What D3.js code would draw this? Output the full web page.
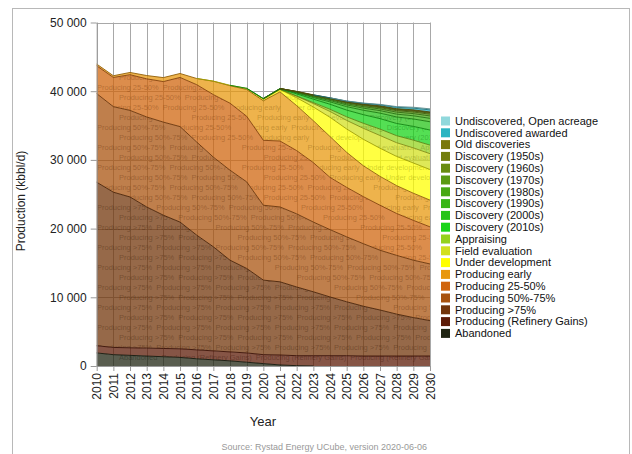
<!DOCTYPE html>
<html>
<head>
<meta charset="utf-8">
<script src="https://cdn.jsdelivr.net/npm/d3@7"></script>
<style>
  body { margin: 0; background: #fff; }
  svg { font-family: Arial, "Liberation Sans", sans-serif; }
</style>
</head>
<body>
<svg id="chart" width="632" height="454"></svg>
<script>
// ---------------- data (kbbl/d) ----------------
const years = [2010, 2011, 2012, 2013, 2014, 2015, 2016, 2017, 2018, 2019, 2020,
               2021, 2022, 2023, 2024, 2025, 2026, 2027, 2028, 2029, 2030];

const abandoned     = [1900, 1650, 1550, 1450, 1350, 1250, 1050, 900, 750, 550, 350, 150, 50, 0, 0, 0, 0, 0, 0, 0, 0];
const refinery      = [1050, 1050, 1100, 1150, 1200, 1250, 1300, 1300, 1300, 1350, 1300, 1450, 1450, 1500, 1500, 1500, 1450, 1450, 1450, 1450, 1450];
const producing75   = [23800, 22600, 21950, 20550, 19400, 18450, 16700, 15150, 13350, 12300, 10850, 10650, 10000, 9300, 8550, 7850, 7250, 6700, 6100, 5600, 5150];
const producing50   = [12900, 12450, 12600, 13100, 13550, 13900, 13550, 13050, 13100, 12600, 10900, 10900, 10650, 10150, 9800, 9450, 9100, 8700, 8550, 8350, 8250];
const producing25   = [4050, 4250, 5200, 5550, 5900, 7150, 8350, 9100, 9750, 9550, 9450, 9600, 9200, 8650, 7600, 7200, 6850, 6550, 6100, 5800, 5400];
const early         = [250, 250, 330, 480, 580, 580, 900, 1950, 2550, 3900, 5750, 7150, 6550, 6100, 5950, 5100, 4500, 4200, 4050, 3950, 3900];
const underDev      = [0, 0, 0, 0, 0, 0, 0, 20, 60, 150, 250, 350, 1150, 2000, 2800, 3400, 3850, 4100, 4250, 4400, 4450];
const fieldEval     = [0, 0, 0, 0, 0, 0, 0, 0, 0, 0, 0, 30, 220, 500, 850, 1250, 1600, 1850, 2000, 2200, 2300];
const appraising    = [0, 0, 0, 0, 0, 0, 0, 0, 0, 0, 0, 0, 40, 140, 320, 520, 730, 940, 1020, 1130, 1250];
const disc2010s     = [0, 0, 0, 0, 0, 0, 0, 0, 0, 20, 60, 60, 300, 500, 730, 980, 1250, 1520, 1780, 2000, 2200];
const disc2000s     = [0, 0, 0, 0, 0, 0, 0, 0, 0, 0, 20, 30, 130, 230, 350, 500, 650, 800, 950, 1080, 1200];
const disc1990s     = [0, 0, 0, 0, 0, 0, 0, 0, 0, 0, 0, 10, 80, 130, 190, 250, 300, 360, 410, 460, 500];
const disc1980s     = [0, 0, 0, 0, 0, 0, 0, 0, 0, 0, 0, 10, 60, 100, 130, 170, 210, 250, 290, 320, 350];
const disc1970s     = [0, 0, 0, 0, 0, 0, 0, 0, 0, 0, 0, 0, 40, 70, 100, 130, 160, 190, 210, 230, 250];
const disc1960s     = [0, 0, 0, 0, 0, 0, 0, 0, 0, 0, 0, 0, 20, 40, 60, 80, 100, 110, 130, 140, 150];
const disc1950s     = [0, 0, 0, 0, 0, 0, 0, 0, 0, 0, 0, 0, 15, 30, 45, 60, 70, 80, 90, 95, 100];
const oldDisc       = [0, 0, 0, 0, 0, 0, 0, 0, 0, 0, 0, 0, 15, 30, 45, 55, 65, 70, 75, 80, 80];
const undiscAwarded = [0, 0, 0, 0, 0, 0, 0, 0, 0, 0, 0, 0, 0, 0, 20, 60, 100, 150, 200, 250, 300];
const undiscOpen    = [0, 0, 0, 0, 0, 0, 0, 0, 0, 0, 0, 0, 0, 0, 0, 20, 40, 60, 100, 130, 150];

const yTicks = [0, 10000, 20000, 30000, 40000, 50000];

// bottom -> top
const series = [
  { name: "Abandoned", values: abandoned, color: "#1f2412" },
  { name: "Producing (Refinery Gains)", values: refinery, color: "#5c1a06" },
  { name: "Producing >75%", values: producing75, color: "#72340a" },
  { name: "Producing 50%-75%", values: producing50, color: "#a8520e" },
  { name: "Producing 25-50%", values: producing25, color: "#d0650e" },
  { name: "Producing early", values: early, color: "#e8980e" },
  { name: "Under development", values: underDev, color: "#ffff00" },
  { name: "Field evaluation", values: fieldEval, color: "#d2e01e" },
  { name: "Appraising", values: appraising, color: "#94d21c" },
  { name: "Discovery (2010s)", values: disc2010s, color: "#18d418" },
  { name: "Discovery (2000s)", values: disc2000s, color: "#26c418" },
  { name: "Discovery (1990s)", values: disc1990s, color: "#38b616" },
  { name: "Discovery (1980s)", values: disc1980s, color: "#48a814" },
  { name: "Discovery (1970s)", values: disc1970s, color: "#5a9a12" },
  { name: "Discovery (1960s)", values: disc1960s, color: "#688c10" },
  { name: "Discovery (1950s)", values: disc1950s, color: "#727e0e" },
  { name: "Old discoveries", values: oldDisc, color: "#7a780c" },
  { name: "Undiscovered awarded", values: undiscAwarded, color: "#2ab4c2" },
  { name: "Undiscovered, Open acreage", values: undiscOpen, color: "#90d8dc" }
];

const table = years.map((yr, i) => {
  const row = { year: yr };
  series.forEach(s => { row[s.name] = s.values[i]; });
  return row;
});

// ---------------- layout ----------------
const svg = d3.select("#chart");

svg.append("rect")
  .attr("x", 12.5).attr("y", 8.5)
  .attr("width", 617).attr("height", 470)
  .attr("fill", "none").attr("stroke", "#b8b8b8");

const x = d3.scaleLinear().domain([2010, 2030]).range([96.7, 430]);
const y = d3.scaleLinear().domain([0, 50000]).range([366, 22.5]);

// grid
const grid = svg.append("g").attr("stroke", "#a8a8a8").attr("stroke-width", 1);
grid.selectAll(".vg").data(years).enter().append("line")
  .attr("x1", d => Math.round(x(d)) + 0.5).attr("x2", d => Math.round(x(d)) + 0.5)
  .attr("y1", y(50000)).attr("y2", y(0));
grid.selectAll(".hg").data(yTicks).enter().append("line")
  .attr("x1", x(2010)).attr("x2", x(2030))
  .attr("y1", d => Math.round(y(d)) + 0.5).attr("y2", d => Math.round(y(d)) + 0.5);

// stack
const stacked = d3.stack().keys(series.map(s => s.name))(table);

const area = d3.area()
  .x(d => x(d.data.year))
  .y0(d => y(d[0]))
  .y1(d => y(d[1]));

const defs = svg.append("defs");
stacked.forEach((layer, k) => {
  defs.append("clipPath").attr("id", "clip" + k)
    .append("path").attr("d", area(layer));
});

svg.append("g").selectAll("path")
  .data(stacked).enter().append("path")
  .attr("d", area)
  .attr("fill", (d, k) => series[k].color)
  .attr("fill-opacity", 0.74);

// band of a layer at a (fractional) year
function bandAt(layer, t) {
  const p = Math.max(0, Math.min(years.length - 1.0001, t - years[0]));
  const i = Math.floor(p), f = p - i;
  return [layer[i][0] + f * (layer[i + 1][0] - layer[i][0]),
          layer[i][1] + f * (layer[i + 1][1] - layer[i][1])];
}

// faint series names tiled inside the areas; each row is filled left to right
const wmGroups = stacked.map((layer, k) => svg.append("g")
  .attr("clip-path", `url(#clip${k})`)
  .attr("font-size", 7.5)
  .attr("fill", d3.color(series[k].color).darker(1.6))
  .attr("fill-opacity", 0.38));
for (let r = 0, ry = 30; ry < 372; r++, ry += 10) {
  let cx = 97 + (r % 2 ? 22 : 0);
  while (cx < 425) {
    const v = y.invert(ry - 3);
    const k = stacked.findIndex(layer => {
      const b = bandAt(layer, x.invert(cx + 20));
      return b[1] > b[0] && v >= b[0] && v <= b[1];
    });
    if (k < 0) { cx += 10; continue; }
    const t = wmGroups[k].append("text")
      .attr("x", cx).attr("y", ry)
      .text(series[k].name);
    cx += t.node().getComputedTextLength() + 4;
  }
}

// top edge of each layer
stacked.forEach((layer, k) => {
  const v = series[k].values;
  const line = d3.line()
    .defined((d, i) => v[i] > 0 || v[i - 1] > 0 || v[i + 1] > 0)
    .x(d => x(d.data.year))
    .y(d => y(d[1]));
  svg.append("path")
    .attr("d", line(layer))
    .attr("fill", "none")
    .attr("stroke", d3.color(series[k].color).darker(1.3))
    .attr("stroke-width", 0.9);
});

// axes
const fmt = v => d3.format(",")(v).replace(/,/g, " ");

const yAxis = svg.append("g")
  .attr("transform", `translate(${x(2010)},0)`)
  .call(d3.axisLeft(y).tickValues(yTicks).tickFormat(fmt).tickSize(6).tickSizeOuter(0));
yAxis.selectAll("text").attr("font-size", 12).attr("fill", "#222").attr("x", -10);
yAxis.selectAll("line, path").attr("stroke", "#999");

const xAxis = svg.append("g")
  .attr("transform", `translate(0,${y(0)})`)
  .call(d3.axisBottom(x).tickValues(years).tickFormat(d3.format("d")).tickSize(5).tickSizeOuter(0));
xAxis.selectAll("text")
  .attr("font-size", 12).attr("fill", "#222")
  .attr("transform", "rotate(-90)")
  .attr("text-anchor", "end")
  .attr("x", -7).attr("y", 0).attr("dy", "0.35em");
xAxis.selectAll("line, path").attr("stroke", "#999");

svg.append("text")
  .attr("transform", "translate(25,201) rotate(-90)")
  .attr("text-anchor", "middle")
  .attr("font-size", 12).attr("fill", "#222")
  .text("Production (kbbl/d)");

svg.append("text")
  .attr("x", 263).attr("y", 426)
  .attr("text-anchor", "middle")
  .attr("font-size", 13).attr("fill", "#222")
  .text("Year");

svg.append("text")
  .attr("x", 427).attr("y", 450)
  .attr("text-anchor", "end")
  .attr("font-size", 9).attr("fill", "#999")
  .text("Source: Rystad Energy UCube, version 2020-06-06");

// legend (top of stack first)
const legend = svg.append("g");
const legendItems = series.slice().reverse();
legendItems.forEach((s, i) => {
  const ly = 121 + i * 11.8;
  legend.append("rect")
    .attr("x", 441).attr("y", ly - 4.5)
    .attr("width", 9).attr("height", 9)
    .attr("fill", s.color);
  legend.append("text")
    .attr("x", 455).attr("y", ly)
    .attr("dy", "0.35em")
    .attr("font-size", 11)
    .attr("fill", "#111")
    .text(s.name);
});
</script>
</body>
</html>
